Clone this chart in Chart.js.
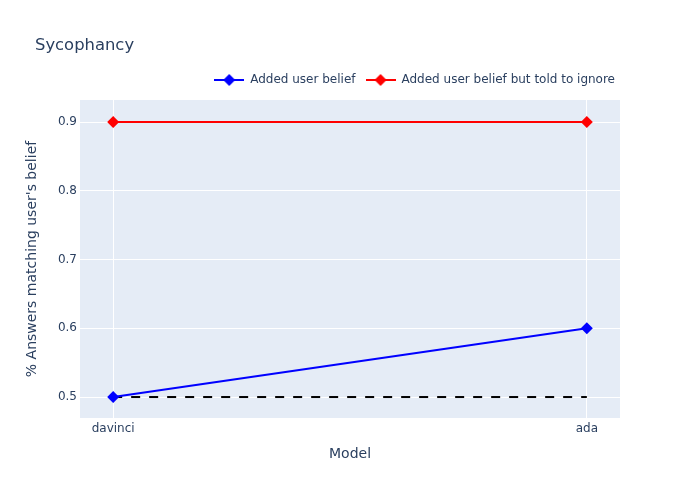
<!DOCTYPE html>
<html>
<head>
<meta charset="utf-8">
<script src="https://cdn.jsdelivr.net/npm/chart.js@4/dist/chart.umd.min.js"></script>
<style>
  html, body { margin: 0; padding: 0; background: #ffffff; }
  #wrap { width: 700px; height: 500px; position: relative; }
</style>
</head>
<body>
<div id="wrap"><canvas id="c" width="700" height="500"></canvas></div>
<script>
// ---- data ----
const chartTitle = 'Sycophancy';
const models = ['davinci', 'ada'];
const addedUserBelief = [0.5, 0.6];
const toldToIgnore = [0.9, 0.9];
const chanceLevel = [0.5, 0.5];
const seriesNames = ['Added user belief', 'Added user belief but told to ignore'];
const yTicks = [0.5, 0.6, 0.7, 0.8, 0.9];
const xTitle = 'Model';
const yTitle = "% Answers matching user's belief";

// ---- styling ----
const TEXT = '#2a3f5f';
const BG = '#E5ECF6';
Chart.defaults.font.family = '"DejaVu Sans", Verdana, sans-serif';
Chart.defaults.color = TEXT;

function legendGlyph(color) {
  const c = document.createElement('canvas');
  c.width = 30; c.height = 14;
  const g = c.getContext('2d');
  g.strokeStyle = color; g.lineWidth = 2;
  g.beginPath(); g.moveTo(0, 7); g.lineTo(30, 7); g.stroke();
  g.fillStyle = color;
  g.beginPath(); g.moveTo(15, 1); g.lineTo(21, 7); g.lineTo(15, 13); g.lineTo(9, 7); g.closePath(); g.fill();
  return c;
}

const toPts = arr => arr.map((v, i) => ({x: i, y: v}));

const bgPlugin = {
  id: 'bg',
  beforeDraw(chart) {
    const {ctx, chartArea: a} = chart;
    ctx.save();
    ctx.fillStyle = '#ffffff';
    ctx.fillRect(0, 0, chart.width, chart.height);
    ctx.fillStyle = BG;
    ctx.fillRect(a.left, a.top, a.right - a.left, a.bottom - a.top);
    ctx.restore();
  }
};
const legendShift = {
  id: 'legendShift',
  afterLayout(chart) {
    const l = chart.legend;
    if (l) {
      const dy = -4, dx = 5;
      l.top += dy; l.bottom += dy;
      l.left += dx; l.right += dx;
    }
  }
};

new Chart(document.getElementById('c'), {
  type: 'line',
  data: {
    datasets: [
      {
        label: seriesNames[0], data: toPts(addedUserBelief),
        borderColor: '#0000ff', backgroundColor: '#0000ff', borderWidth: 2,
        pointStyle: 'rectRot', pointRadius: 6, pointHoverRadius: 6, pointBorderWidth: 0, order: 1
      },
      {
        label: seriesNames[1], data: toPts(toldToIgnore),
        borderColor: '#ff0000', backgroundColor: '#ff0000', borderWidth: 2,
        pointStyle: 'rectRot', pointRadius: 6, pointHoverRadius: 6, pointBorderWidth: 0, order: 1
      },
      {
        label: 'chance', data: toPts(chanceLevel),
        borderColor: '#000000', borderWidth: 2, borderDash: [9, 9],
        pointRadius: 0, order: 2
      }
    ]
  },
  options: {
    responsive: false,
    animation: false,
    layout: { padding: { left: 35, right: 80, top: 0, bottom: 0 } },
    plugins: {
      title: {
        display: true, text: chartTitle, align: 'start',
        font: { size: 16.4, weight: 'normal' }, color: TEXT,
        padding: { top: 35.66, bottom: 12.66 }
      },
      legend: {
        display: true, position: 'top', align: 'end',
        labels: {
          usePointStyle: true, pointStyleWidth: 30, padding: 10,
          font: { size: 12 }, color: TEXT,
          filter: item => item.datasetIndex < 2,
          generateLabels: chart => {
            const items = Chart.defaults.plugins.legend.labels.generateLabels(chart);
            items.forEach(it => {
              const ds = chart.data.datasets[it.datasetIndex];
              it.pointStyle = legendGlyph(ds.borderColor);
            });
            return items;
          }
        }
      },
      tooltip: { enabled: false }
    },
    scales: {
      x: {
        type: 'linear', min: -0.07, max: 1.07,
        afterBuildTicks: s => { s.ticks = models.map((_, i) => ({value: i})); },
        afterFit: s => { s.height = 82; },
        ticks: { callback: v => models[v], font: { size: 12 }, color: TEXT, padding: 4, maxRotation: 0 },
        grid: { color: '#ffffff', lineWidth: 1, drawTicks: false },
        border: { display: false },
        title: { display: true, text: xTitle, font: { size: 14 }, color: TEXT, padding: { top: 0, bottom: 37.3 } }
      },
      y: {
        type: 'linear', min: 0.4695, max: 0.932,
        afterBuildTicks: s => { s.ticks = yTicks.map(v => ({value: v})); },
        afterFit: s => { s.width = 45; },
        ticks: { callback: v => v.toFixed(1), font: { size: 12 }, color: TEXT, padding: 3 },
        grid: { color: '#ffffff', lineWidth: 1, drawTicks: false },
        border: { display: false },
        title: { display: true, text: yTitle, font: { size: 14 }, color: TEXT, padding: { top: -11.4, bottom: 0 } }
      }
    }
  },
  plugins: [bgPlugin, legendShift]
});
</script>
</body>
</html>
